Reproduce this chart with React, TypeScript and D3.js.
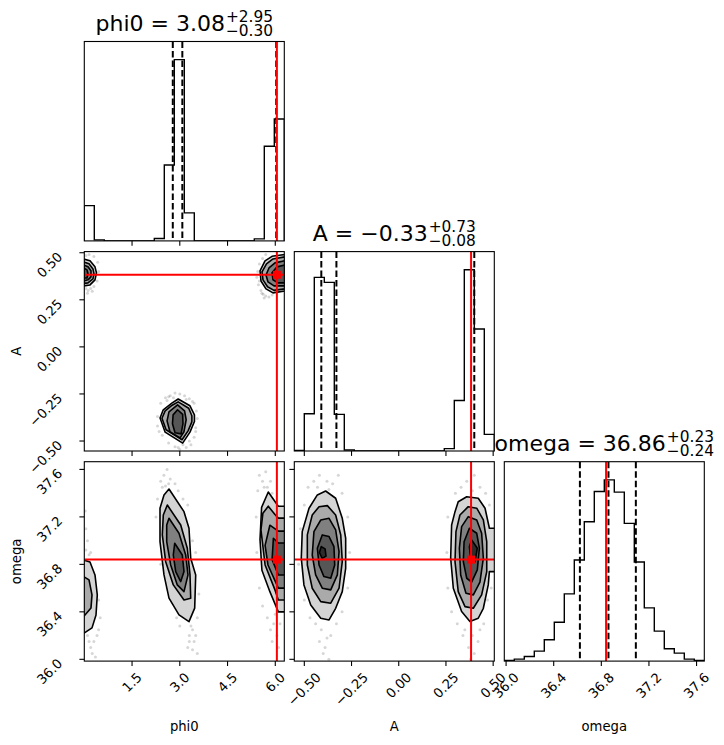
import React, { useMemo } from 'react';
import * as d3 from 'd3';

// ---------------- data ----------------
const PARAMS = ['phi0', 'A', 'omega'];
const RANGES: [number, number][] = [[0, 6.2832], [-0.553, 0.506], [35.985, 37.665]];
const TRUTHS = [6.05, 0.383, 36.84];
const Q16 = [2.78, -0.41, 36.62];
const Q50 = [3.08, -0.33, 36.86];
const Q84 = [6.03, 0.40, 37.09];
const TITLE_MAIN = ['phi0 = 3.08', 'A = \u22120.33', 'omega = 36.86'];
const TITLE_SUP = ['+2.95', '+0.73', '+0.23'];
const TITLE_SUB = ['\u22120.30', '\u22120.08', '\u22120.24'];

const PHI0_TICKS = [1.5, 3.0, 4.5, 6.0];
const PHI0_TICK_LABELS = ['1.5', '3.0', '4.5', '6.0'];
const A_TICKS = [-0.5, -0.25, 0, 0.25, 0.5];
const A_TICK_LABELS = ['\u22120.50', '\u22120.25', '0.00', '0.25', '0.50'];
const OMEGA_TICKS = [36.0, 36.4, 36.8, 37.2, 37.6];
const OMEGA_TICK_LABELS = ['36.0', '36.4', '36.8', '37.2', '37.6'];

// histogram counts (20 bins across each range)
const PHI0_HIST = [106, 3, 0, 0, 0, 0, 0, 7, 228, 544, 84, 0, 0, 0, 0, 0, 0, 6, 284, 366];
const A_HIST = [2, 112, 522, 507, 110, 3, 0, 0, 0, 0, 0, 0, 0, 0, 0, 7, 152, 545, 367, 50];
const OMEGA_HIST = [2, 6, 14, 30, 64, 117, 202, 304, 419, 510, 545, 508, 414, 298, 160, 90, 37, 24, 6, 2];

// contour polygons [x, y] in data units, outer level first
const PHI0_A_MID = [
  [[2.95, -0.277], [3.32, -0.313], [3.46, -0.361], [3.46, -0.396], [3.32, -0.453], [3.09, -0.511], [2.54, -0.453], [2.38, -0.378], [2.48, -0.334], [2.75, -0.299]],
  [[2.95, -0.292], [3.28, -0.326], [3.38, -0.366], [3.38, -0.398], [3.26, -0.446], [3.07, -0.493], [2.57, -0.44], [2.44, -0.379], [2.54, -0.34], [2.76, -0.31]],
  [[2.93, -0.308], [3.15, -0.34], [3.2, -0.387], [3.13, -0.451], [3.01, -0.483], [2.69, -0.451], [2.6, -0.393], [2.66, -0.345]],
  [[2.93, -0.334], [3.09, -0.358], [3.1, -0.408], [3.04, -0.462], [2.85, -0.456], [2.77, -0.408], [2.79, -0.361]],
];
const PHI0_A_RIGHT = [
  [[6.3, 0.491], [5.897, 0.481], [5.677, 0.457], [5.52, 0.404], [5.551, 0.35], [5.708, 0.308], [5.928, 0.287], [6.3, 0.297]],
  [[6.3, 0.478], [5.928, 0.467], [5.724, 0.441], [5.583, 0.398], [5.614, 0.356], [5.756, 0.319], [5.96, 0.3], [6.3, 0.308]],
  [[6.3, 0.457], [5.991, 0.446], [5.803, 0.419], [5.708, 0.382], [5.771, 0.345], [5.96, 0.324], [6.3, 0.324]],
  [[6.3, 0.435], [6.054, 0.425], [5.897, 0.393], [5.928, 0.356], [6.085, 0.34], [6.3, 0.34]],
];
const PHI0_A_LEFT = [
  [[-0.02, 0.467], [0.179, 0.457], [0.336, 0.425], [0.383, 0.393], [0.336, 0.356], [0.179, 0.329], [-0.02, 0.324]],
  [[-0.02, 0.451], [0.148, 0.441], [0.273, 0.414], [0.305, 0.388], [0.273, 0.361], [0.116, 0.34], [-0.02, 0.337]],
  [[-0.02, 0.435], [0.116, 0.425], [0.21, 0.404], [0.21, 0.372], [0.116, 0.356], [-0.02, 0.35]],
  [[-0.02, 0.419], [0.085, 0.409], [0.116, 0.388], [0.085, 0.366], [-0.02, 0.366]],
];
const PHI0_OMEGA_MID = [
  [[2.661, 37.435], [3.132, 37.244], [3.289, 37.104], [3.343, 36.852], [3.5, 36.711], [3.468, 36.431], [3.289, 36.318], [2.975, 36.374], [2.661, 36.515], [2.504, 36.711], [2.378, 36.991], [2.378, 37.273], [2.504, 37.385]],
  [[2.608, 37.3], [3.029, 37.132], [3.236, 36.936], [3.321, 36.711], [3.343, 36.515], [3.132, 36.5], [2.796, 36.627], [2.557, 36.823], [2.451, 37.048], [2.482, 37.216]],
  [[2.661, 37.188], [2.975, 37.062], [3.186, 36.879], [3.258, 36.711], [3.132, 36.57], [2.922, 36.627], [2.714, 36.795], [2.589, 36.991], [2.589, 37.132]],
  [[2.84, 36.978], [3.079, 36.879], [3.132, 36.739], [3.029, 36.655], [2.872, 36.739], [2.796, 36.879]],
];
const PHI0_OMEGA_LEFT = [
  [[-0.02, 36.837], [0.179, 36.82], [0.336, 36.711], [0.408, 36.543], [0.368, 36.374], [0.242, 36.265], [-0.02, 36.218]],
  [[-0.02, 36.697], [0.148, 36.669], [0.242, 36.543], [0.21, 36.433], [-0.02, 36.36]],
];
const PHI0_OMEGA_RIGHT = [
  [[5.78, 37.41], [6.095, 37.29], [6.3, 37.29], [6.3, 36.4], [6.095, 36.4], [5.83, 36.57], [5.58, 36.75], [5.52, 37.01], [5.57, 37.28]],
  [[5.78, 37.29], [5.99, 37.22], [6.095, 37.19], [6.3, 37.19], [6.3, 36.5], [6.095, 36.5], [5.99, 36.585], [5.68, 36.795], [5.55, 37.09], [5.61, 37.23]],
  [[5.83, 37.13], [6.095, 37.08], [6.3, 37.08], [6.3, 36.6], [6.095, 36.6], [5.77, 36.795], [5.68, 36.96]],
  [[5.94, 37.02], [6.095, 36.98], [6.3, 36.98], [6.3, 36.71], [6.095, 36.71], [5.9, 36.84]],
];
const A_OMEGA_LEFT = [
  [[-0.387, 37.418], [-0.334, 37.357], [-0.299, 37.188], [-0.281, 37.02], [-0.281, 36.767], [-0.299, 36.57], [-0.334, 36.43], [-0.369, 36.332], [-0.413, 36.346], [-0.466, 36.458], [-0.502, 36.627], [-0.516, 36.852], [-0.511, 37.076], [-0.475, 37.273], [-0.431, 37.385]],
  [[-0.422, 37.286], [-0.378, 37.295], [-0.334, 37.216], [-0.307, 37.048], [-0.299, 36.823], [-0.316, 36.599], [-0.36, 36.473], [-0.413, 36.486], [-0.458, 36.599], [-0.484, 36.795], [-0.484, 37.048], [-0.458, 37.216]],
  [[-0.413, 37.174], [-0.369, 37.188], [-0.334, 37.09], [-0.316, 36.907], [-0.325, 36.711], [-0.36, 36.585], [-0.405, 36.599], [-0.44, 36.711], [-0.458, 36.879], [-0.449, 37.076]],
  [[-0.405, 37.048], [-0.369, 37.034], [-0.343, 36.949], [-0.339, 36.795], [-0.36, 36.683], [-0.396, 36.697], [-0.422, 36.795], [-0.431, 36.936]],
  [[-0.41, 36.95], [-0.39, 36.93], [-0.385, 36.87], [-0.405, 36.85], [-0.42, 36.9]],
];
const A_OMEGA_RIGHT = [
  [[0.36, 37.37], [0.421, 37.357], [0.457, 37.273], [0.48, 37.104], [0.52, 37.104], [0.52, 36.739], [0.48, 36.739], [0.474, 36.627], [0.448, 36.43], [0.421, 36.346], [0.377, 36.318], [0.333, 36.402], [0.289, 36.599], [0.275, 36.852], [0.28, 37.132], [0.298, 37.244], [0.315, 37.328]],
  [[0.368, 37.286], [0.413, 37.273], [0.448, 37.174], [0.466, 36.991], [0.466, 36.739], [0.439, 36.543], [0.395, 36.43], [0.351, 36.444], [0.315, 36.57], [0.298, 36.823], [0.303, 37.076], [0.324, 37.216]],
  [[0.368, 37.202], [0.413, 37.174], [0.439, 37.062], [0.448, 36.852], [0.43, 36.651], [0.395, 36.543], [0.356, 36.557], [0.328, 36.711], [0.321, 36.936], [0.333, 37.118]],
  [[0.374, 37.104], [0.413, 37.062], [0.427, 36.936], [0.416, 36.753], [0.386, 36.651], [0.36, 36.683], [0.342, 36.823], [0.346, 36.991]],
  [[0.386, 37.006], [0.416, 36.936], [0.404, 36.823], [0.381, 36.852], [0.374, 36.949]],
];

// scattered samples outside the contours [x, y]
const PHI0_A_POINTS = [
  [2.55, -0.27], [2.7, -0.26], [2.85, -0.245], [3.0, -0.25], [3.15, -0.26], [3.3, -0.275], [3.45, -0.3], [3.52, -0.34], [3.55, -0.38], [3.5, -0.43], [3.45, -0.48], [3.3, -0.5], [3.2, -0.535], [3.0, -0.545], [2.85, -0.53], [2.65, -0.51], [2.45, -0.47], [2.3, -0.42], [2.3, -0.37], [2.4, -0.3], [2.6, -0.285], [3.4, -0.29], [2.8, -0.27], [3.1, -0.52],
  [2.65, -0.265], [3.2, -0.28], [3.5, -0.45], [2.35, -0.45], [2.95, -0.535], [3.35, -0.52],
  [5.45, 0.4], [5.42, 0.37], [5.47, 0.33], [5.55, 0.3], [5.62, 0.28], [5.7, 0.27], [5.8, 0.265], [5.9, 0.275], [5.5, 0.44], [5.6, 0.47], [5.7, 0.49], [5.5, 0.35], [5.58, 0.285], [5.65, 0.26],
  [0.05, 0.31], [0.12, 0.3], [0.2, 0.31], [0.3, 0.32], [0.4, 0.35], [0.45, 0.4], [0.42, 0.45], [0.3, 0.48], [0.15, 0.49], [0.05, 0.485], [0.25, 0.295], [0.1, 0.285],
];
const PHI0_OMEGA_POINTS = [
  [2.4, 37.5], [2.5, 37.55], [2.6, 37.6], [2.7, 37.52], [2.55, 37.46], [2.85, 37.48], [2.95, 37.42], [3.1, 37.35], [3.25, 37.3], [2.3, 37.35], [2.25, 37.2], [3.4, 37.0], [3.5, 36.9], [3.6, 36.55], [3.55, 36.35], [3.4, 36.25], [3.3, 36.2], [3.25, 36.1], [3.45, 36.15], [3.55, 36.05], [3.35, 36.28], [2.9, 36.35], [3.0, 36.28], [2.6, 36.6], [2.4, 36.8],
  [2.45, 37.45], [2.65, 37.48], [3.3, 36.15], [3.5, 36.2], [3.4, 36.08],
  [0.03, 37.25], [0.05, 37.1], [0.1, 37.0], [0.05, 36.92], [0.15, 36.88], [0.2, 36.9], [0.45, 36.5], [0.5, 36.35], [0.4, 36.2], [0.3, 36.15], [0.2, 36.1], [0.1, 36.2], [0.25, 36.05], [0.35, 36.02], [0.15, 36.15], [0.45, 36.25],
  [5.5, 37.55], [5.6, 37.5], [5.7, 37.58], [5.75, 37.45], [5.85, 37.5], [5.9, 37.4], [5.45, 37.42], [5.4, 37.2], [5.42, 36.9], [5.5, 36.6], [5.6, 36.45], [5.75, 36.35], [5.85, 36.25], [5.95, 36.3], [6.05, 36.2], [6.1, 36.1], [5.9, 36.15], [6.0, 36.38], [6.15, 36.3], [5.65, 37.45],
];
const A_OMEGA_POINTS = [
  [-0.48, 37.45], [-0.45, 37.5], [-0.42, 37.55], [-0.38, 37.5], [-0.35, 37.48], [-0.32, 37.55], [-0.3, 37.4], [-0.27, 37.2], [-0.26, 36.9], [-0.27, 36.6], [-0.3, 36.4], [-0.33, 36.3], [-0.36, 36.2], [-0.39, 36.1], [-0.41, 36.25], [-0.44, 36.3], [-0.47, 36.35], [-0.5, 36.5], [-0.53, 36.8], [-0.52, 37.1], [-0.5, 37.3], [-0.4, 36.05], [-0.37, 36.0],
  [-0.43, 37.45], [-0.37, 37.43], [-0.38, 36.18], [-0.42, 36.15],
  [0.3, 37.4], [0.33, 37.45], [0.36, 37.5], [0.4, 37.55], [0.43, 37.45], [0.46, 37.4], [0.48, 37.3], [0.26, 37.2], [0.255, 36.9], [0.26, 36.6], [0.28, 36.4], [0.31, 36.3], [0.34, 36.2], [0.37, 36.1], [0.4, 36.05], [0.42, 36.15], [0.45, 36.3], [0.38, 36.0], [0.35, 36.25], [0.43, 36.25], [0.47, 36.5], [0.49, 36.6], [0.39, 37.42], [0.39, 36.2],
];

const HISTS = [PHI0_HIST, A_HIST, OMEGA_HIST];
const TICKS = [PHI0_TICKS, A_TICKS, OMEGA_TICKS];
const TICK_LABELS = [PHI0_TICK_LABELS, A_TICK_LABELS, OMEGA_TICK_LABELS];
const PANELS_2D = [
  { row: 1, col: 0, clusters: [PHI0_A_LEFT, PHI0_A_MID, PHI0_A_RIGHT], points: PHI0_A_POINTS },
  { row: 2, col: 0, clusters: [PHI0_OMEGA_LEFT, PHI0_OMEGA_MID, PHI0_OMEGA_RIGHT], points: PHI0_OMEGA_POINTS },
  { row: 2, col: 1, clusters: [A_OMEGA_LEFT, A_OMEGA_RIGHT], points: A_OMEGA_POINTS },
];

// ---------------- styles / layout ----------------
const LEFTS = [84.3, 294.3, 504.3];
const TOPS = [41.5, 251.6, 461.7];
const W = 200;
const H = 199.4;
const LEVEL_FILLS = ['#d4d4d4', '#aaaaaa', '#808080', '#565656', '#2c2c2c'];
const FONT = '"DejaVu Sans", sans-serif';
const TICK_FS = 13.2;
const TITLE_FS = 22;
const SCRIPT_FS = 15.4;

let _ctx: CanvasRenderingContext2D | null = null;
function textWidth(s: string, size: number): number {
  if (!_ctx) _ctx = document.createElement('canvas').getContext('2d');
  if (!_ctx) return s.length * size * 0.6;
  _ctx.font = `${size}px "DejaVu Sans"`;
  return _ctx.measureText(s).width;
}

export default function App() {
  const xs = useMemo(() => RANGES.map((r, c) => d3.scaleLinear().domain(r).range([LEFTS[c], LEFTS[c] + W])), []);
  const ys = useMemo(() => RANGES.map((r, i) => d3.scaleLinear().domain(r).range([TOPS[i] + H, TOPS[i]])), []);

  const elems: React.ReactNode[] = [];

  const defs = (
    <defs>
      {[0, 1, 2].map((r) => [0, 1, 2].map((c) => (
        <clipPath id={`clip-${r}-${c}`} key={`cp${r}${c}`}>
          <rect x={LEFTS[c]} y={TOPS[r]} width={W} height={H} />
        </clipPath>
      )))}
    </defs>
  );

  const bottomTicks = (r: number, c: number, withLabels: boolean) => {
    const bottom = TOPS[r] + H;
    return TICKS[c].map((t, i) => {
      const x = xs[c](t);
      const lab = TICK_LABELS[c][i];
      const w = textWidth(lab, TICK_FS);
      const bb = (w + 1.16 * TICK_FS) * 0.7071;
      const cy = bottom + 8.5 + bb / 2;
      return (
        <g key={`bt${r}${c}${i}`}>
          <line x1={x} x2={x} y1={bottom} y2={bottom + 4.9} stroke="#000" strokeWidth={1.1} />
          {withLabels && (
            <text x={x} y={cy} textAnchor="middle" dominantBaseline="central" fontSize={TICK_FS} fontFamily={FONT}
              transform={`rotate(-45 ${x} ${cy})`}>{lab}</text>
          )}
        </g>
      );
    });
  };

  const leftTicks = (r: number, c: number, withLabels: boolean) => {
    const left = LEFTS[c];
    return TICKS[r].map((t, i) => {
      const y = ys[r](t);
      const lab = TICK_LABELS[r][i];
      const ax = left - 21;
      const ay = y + 5;
      return (
        <g key={`lt${r}${c}${i}`}>
          <line x1={left - 4.9} x2={left} y1={y} y2={y} stroke="#000" strokeWidth={1.1} />
          {withLabels && (
            <text x={ax} y={ay} textAnchor="end" fontSize={TICK_FS} fontFamily={FONT}
              transform={`rotate(-45 ${ax} ${ay})`}>{lab}</text>
          )}
        </g>
      );
    });
  };

  for (let i = 0; i < 3; i++) {
    const counts = HISTS[i];
    const [lo, hi] = RANGES[i];
    const edges = d3.range(counts.length + 1).map((k) => lo + ((hi - lo) * k) / counts.length);
    const yh = d3.scaleLinear().domain([0, 1.1 * (d3.max(counts) as number)]).range([TOPS[i] + H, TOPS[i]]);
    const pts: [number, number][] = [[xs[i](edges[0]), yh(0)]];
    counts.forEach((n, k) => {
      pts.push([xs[i](edges[k]), yh(n)]);
      pts.push([xs[i](edges[k + 1]), yh(n)]);
    });
    pts.push([xs[i](edges[counts.length]), yh(0)]);
    const line = d3.line();
    elems.push(
      <g key={`hist${i}`}>
        <g clipPath={`url(#clip-${i}-${i})`}>
          <path d={line(pts) || ''} fill="none" stroke="#000" strokeWidth={1.4} />
          {[Q16[i], Q50[i], Q84[i]].map((q, k) => (
            <line key={k} x1={xs[i](q)} x2={xs[i](q)} y1={TOPS[i]} y2={TOPS[i] + H} stroke="#000" strokeWidth={2} strokeDasharray="6.5,3" />
          ))}
          <line x1={xs[i](TRUTHS[i])} x2={xs[i](TRUTHS[i])} y1={TOPS[i]} y2={TOPS[i] + H} stroke="#ff0000" strokeWidth={2} />
        </g>
        <rect x={LEFTS[i]} y={TOPS[i]} width={W} height={H} fill="none" stroke="#000" strokeWidth={1.1} />
        {bottomTicks(i, i, i === 2)}
      </g>
    );
    const main = TITLE_MAIN[i];
    const wMain = textWidth(main, TITLE_FS);
    const wScript = Math.max(textWidth(TITLE_SUP[i], SCRIPT_FS), textWidth(TITLE_SUB[i], SCRIPT_FS));
    const total = wMain + 1 + wScript;
    const x0 = LEFTS[i] + W / 2 - total / 2;
    const base = TOPS[i] - 11;
    elems.push(
      <g key={`title${i}`} fontFamily={FONT}>
        <text x={x0} y={base} fontSize={TITLE_FS}>{main}</text>
        <text x={x0 + wMain + 1} y={base - 8.8} fontSize={SCRIPT_FS}>{TITLE_SUP[i]}</text>
        <text x={x0 + wMain + 1} y={base + 5.4} fontSize={SCRIPT_FS}>{TITLE_SUB[i]}</text>
      </g>
    );
  }

  PANELS_2D.forEach((p) => {
    const { row, col } = p;
    const xsc = xs[col];
    const ysc = ys[row];
    const line = d3.line<number[]>().x((d) => xsc(d[0])).y((d) => ysc(d[1])).curve(d3.curveLinearClosed);
    const tx = xsc(TRUTHS[col]);
    const ty = ysc(TRUTHS[row]);
    elems.push(
      <g key={`p${row}${col}`}>
        <g clipPath={`url(#clip-${row}-${col})`}>
          {p.points.map((d, k) => (
            <circle key={`pt${k}`} cx={xsc(d[0])} cy={ysc(d[1])} r={1.5} fill="#000" fillOpacity={0.16} />
          ))}
          {p.clusters.map((cl, ci) => (
            <g key={`cl${ci}`}>
              {cl.map((poly, li) => (
                <path key={li} d={line(poly) || ''} fill={LEVEL_FILLS[li]} stroke="#000" strokeWidth={1.6} strokeLinejoin="round" />
              ))}
            </g>
          ))}
          <line x1={tx} x2={tx} y1={TOPS[row]} y2={TOPS[row] + H} stroke="#ff0000" strokeWidth={2} />
          <line x1={LEFTS[col]} x2={LEFTS[col] + W} y1={ty} y2={ty} stroke="#ff0000" strokeWidth={2} />
          <rect x={tx - 4} y={ty - 4} width={8} height={8} fill="#ff0000" />
        </g>
        <rect x={LEFTS[col]} y={TOPS[row]} width={W} height={H} fill="none" stroke="#000" strokeWidth={1.1} />
        {bottomTicks(row, col, row === 2)}
        {leftTicks(row, col, col === 0)}
      </g>
    );
  });

  const labels = (
    <g fontFamily={FONT} fontSize={TICK_FS}>
      {PARAMS.map((name, c) => (
        <text key={`xl${c}`} x={LEFTS[c] + W / 2} y={731} textAnchor="middle">{name}</text>
      ))}
      {[1, 2].map((r) => (
        <text key={`yl${r}`} transform={`translate(20.5 ${TOPS[r] + H / 2}) rotate(-90)`} textAnchor="middle">{PARAMS[r]}</text>
      ))}
    </g>
  );

  return (
    <svg width={724} height={745} viewBox="0 0 724 745" style={{ position: 'absolute', left: 0, top: 0, background: '#fff' }}>
      <rect x={0} y={0} width={724} height={745} fill="#fff" />
      {defs}
      {elems}
      {labels}
    </svg>
  );
}
